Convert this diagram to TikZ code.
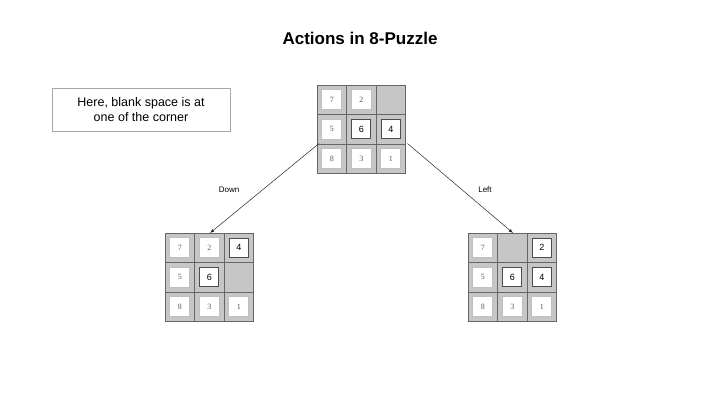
\documentclass[tikz,border=0pt]{standalone}
\usepackage{fontspec}
\setmainfont{Liberation Sans}
\newfontfamily\serifnum{Liberation Serif}
\begin{document}
\begin{tikzpicture}[x=1pt,y=-1pt,
  cellbg/.style={fill=gray!45,draw=gray!80!black,line width=0.8pt},
  tile/.style={fill=white,draw=gray!50,line width=1pt,minimum size=20pt,inner sep=0pt,font=\serifnum\footnotesize,text=gray!70!black},
  btile/.style={fill=white,draw=black!70,line width=0.8pt,minimum size=19pt,inner sep=0pt,font=\small},
  arr/.style={-latex,line width=0.5pt,gray!30!black}]
\useasboundingbox (0,0) rectangle (720,404);
\newcommand\puzz[4]{% name, x0, y0, list
  \foreach \t [count=\i from 0] in {#4}{
    \pgfmathtruncatemacro\c{mod(\i,3)}
    \pgfmathtruncatemacro\r{div(\i,3)}
    \draw[cellbg] (#2+\c*29.5,#3+\r*29.5) rectangle ++(29.5,29.5);
    \expandafter\tileit\t\relax{#1-\i}{#2+\c*29.5+14.75}{#3+\r*29.5+14.75}
  }
  \coordinate (#1-nw) at (#2,#3);
  \coordinate (#1-sw) at (#2,#3+88.5);
  \coordinate (#1-se) at (#2+88.5,#3+88.5);
}
\def\tileit#1#2\relax#3#4#5{%
  \if b#1\node[btile] (#3) at (#4,#5) {#2};\else
  \if s#1\node[tile] (#3) at (#4,#5) {#2};\fi\fi}
\node (title) at (360,38) {\bfseries\fontsize{17}{20}\selectfont Actions in 8-Puzzle};
\node[draw=gray!70,line width=0.8pt,minimum width=178pt,minimum height=43pt,align=center,inner sep=2pt,font=\fontsize{12.5}{15}\selectfont] (note) at (141,109.5) {Here, blank space is at\\one of the corner};
\puzz{top}{317}{85}{s7,s2,x,s5,b6,b4,s8,s3,s1}
\puzz{left}{165}{233}{s7,s2,b4,s5,b6,x,s8,s3,s1}
\puzz{right}{468}{233}{s7,x,b2,s5,b6,b4,s8,s3,s1}
\draw[arr] (top-sw) ++(2,-30) coordinate (a1) -- ([xshift=45pt]left-nw);
\draw[arr] (top-se) ++(2,-30) coordinate (a2) -- ([xshift=45pt]right-nw);
\node[font=\footnotesize] (ld) at (229,190) {Down};
\node[font=\footnotesize] (ll) at (485,190) {Left};
\end{tikzpicture}
\end{document}
